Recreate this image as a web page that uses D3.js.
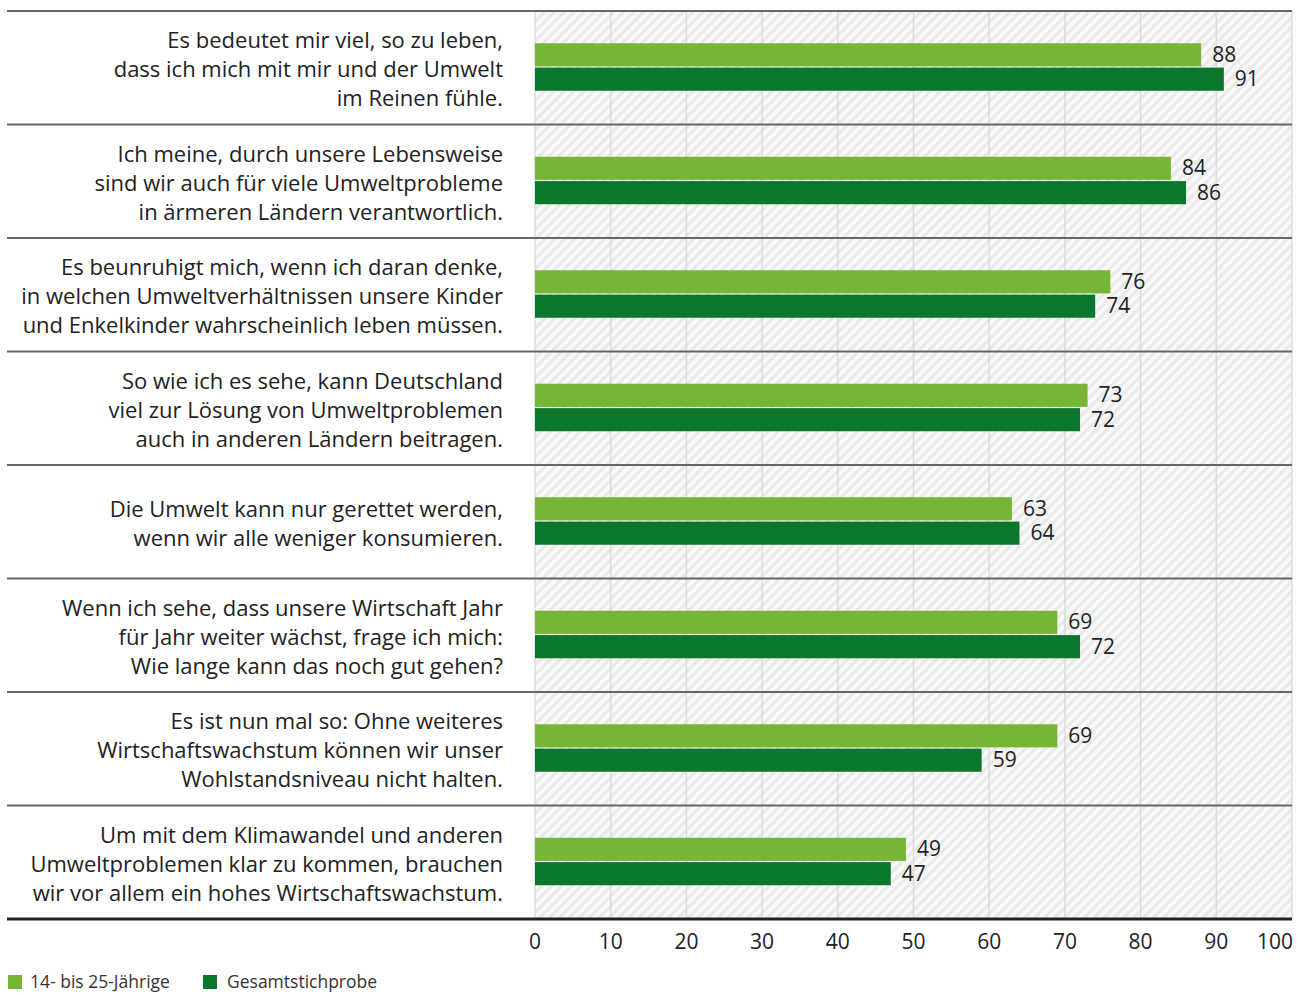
<!DOCTYPE html>
<html><head><meta charset="utf-8">
<script src="https://cdn.jsdelivr.net/npm/d3@7"></script>
<style>body{margin:0;background:#fff}svg{display:block}</style>
</head><body>
<script>
const categories = [
  ["Es bedeutet mir viel, so zu leben,","dass ich mich mit mir und der Umwelt","im Reinen fühle."],
  ["Ich meine, durch unsere Lebensweise","sind wir auch für viele Umweltprobleme","in ärmeren Ländern verantwortlich."],
  ["Es beunruhigt mich, wenn ich daran denke,","in welchen Umweltverhältnissen unsere Kinder","und Enkelkinder wahrscheinlich leben müssen."],
  ["So wie ich es sehe, kann Deutschland","viel zur Lösung von Umweltproblemen","auch in anderen Ländern beitragen."],
  ["Die Umwelt kann nur gerettet werden,","wenn wir alle weniger konsumieren."],
  ["Wenn ich sehe, dass unsere Wirtschaft Jahr","für Jahr weiter wächst, frage ich mich:","Wie lange kann das noch gut gehen?"],
  ["Es ist nun mal so: Ohne weiteres","Wirtschaftswachstum können wir unser","Wohlstandsniveau nicht halten."],
  ["Um mit dem Klimawandel und anderen","Umweltproblemen klar zu kommen, brauchen","wir vor allem ein hohes Wirtschaftswachstum."]
];
const seriesNames = ["14- bis 25-Jährige", "Gesamtstichprobe"];
const youth = [88, 84, 76, 73, 63, 69, 69, 49];
const total = [91, 86, 74, 72, 64, 72, 59, 47];
const ticks = [0, 10, 20, 30, 40, 50, 60, 70, 80, 90, 100];
const colors = ["#76b535", "#0b772d"];

const W = 1306, H = 996;
const font = "'Open Sans', 'Noto Sans', sans-serif";
const svg = d3.select("body").append("svg").attr("width", W).attr("height", H);

const x = d3.scaleLinear().domain([0, 100]).range([535, 1292]);
const y = d3.scaleBand().domain(d3.range(categories.length)).range([11, 919]).paddingInner(0).paddingOuter(0);
const sub = d3.scaleBand().domain([0, 1]).range([0, 47.5]).paddingInner(0.05);

// hatch pattern
const defs = svg.append("defs");
const pat = defs.append("pattern").attr("id", "hatch").attr("patternUnits", "userSpaceOnUse")
  .attr("width", 7).attr("height", 7).attr("patternTransform", "rotate(45)");
pat.append("rect").attr("width", 7).attr("height", 7).attr("fill", "#f8f8f8");
pat.append("rect").attr("width", 3).attr("height", 7).attr("fill", "#e9e9e9");

svg.append("rect").attr("x", x(0)).attr("y", y.range()[0]).attr("width", x(100) - x(0))
  .attr("height", y.range()[1] - y.range()[0]).attr("fill", "url(#hatch)");

// gridlines
svg.append("g").selectAll("line").data(ticks).join("line")
  .attr("x1", d => x(d)).attr("x2", d => x(d))
  .attr("y1", y.range()[0]).attr("y2", y.range()[1])
  .attr("stroke", "#dcdcdc").attr("stroke-width", 1.5);

// bars
const g = svg.append("g").selectAll("g").data(categories).join("g")
  .attr("transform", (d, i) => `translate(0,${y(i) + y.bandwidth() / 2 - 24.5})`);
[youth, total].forEach((vals, s) => {
  g.append("rect").attr("x", x(0)).attr("y", sub(s))
    .attr("width", (d, i) => x(vals[i]) - x(0)).attr("height", sub.bandwidth())
    .attr("fill", colors[s]);
  g.append("text").attr("x", (d, i) => x(vals[i]) + 11).attr("y", sub(s) + sub.bandwidth() / 2 - 0.5)
    .attr("dy", "0.36em").attr("font-family", font).attr("font-size", 21).attr("fill", "#222")
    .text((d, i) => vals[i]);
});

// category labels
g.append("text").attr("text-anchor", "end").attr("font-family", font).attr("font-size", 22)
  .attr("fill", "#222")
  .each(function (lines) {
    const t = d3.select(this);
    const lh = 29;
    const start = 26.5 - (lines.length - 1) * lh / 2;
    lines.forEach((l, k) => t.append("tspan").attr("x", 503).attr("y", start + k * lh).attr("dy", "0.35em").text(l));
  });

// separators
svg.append("g").selectAll("line").data(d3.range(categories.length)).join("line")
  .attr("x1", 7).attr("x2", x(100))
  .attr("y1", i => y(i)).attr("y2", i => y(i))
  .attr("stroke", "#666").attr("stroke-width", 2);
svg.append("line").attr("x1", 7).attr("x2", x(100)).attr("y1", y.range()[1]).attr("y2", y.range()[1])
  .attr("stroke", "#222").attr("stroke-width", 3);

// x axis labels
svg.append("g").selectAll("text").data(ticks).join("text")
  .attr("x", d => d === 100 ? x(d) + 1 : x(d)).attr("y", 942).attr("dy", "0.35em")
  .attr("text-anchor", d => d === 100 ? "end" : "middle")
  .attr("font-family", font).attr("font-size", 21).attr("fill", "#222").text(d => d);

// legend
const leg = [[8, 30], [203, 227]];
seriesNames.forEach((n, i) => {
  svg.append("rect").attr("x", leg[i][0]).attr("y", 975).attr("width", 14).attr("height", 14).attr("fill", colors[i]);
  svg.append("text").attr("x", leg[i][1]).attr("y", 982).attr("dy", "0.35em")
    .attr("font-family", font).attr("font-size", 17.5).attr("fill", "#333").text(n);
});
</script>
</body></html>
